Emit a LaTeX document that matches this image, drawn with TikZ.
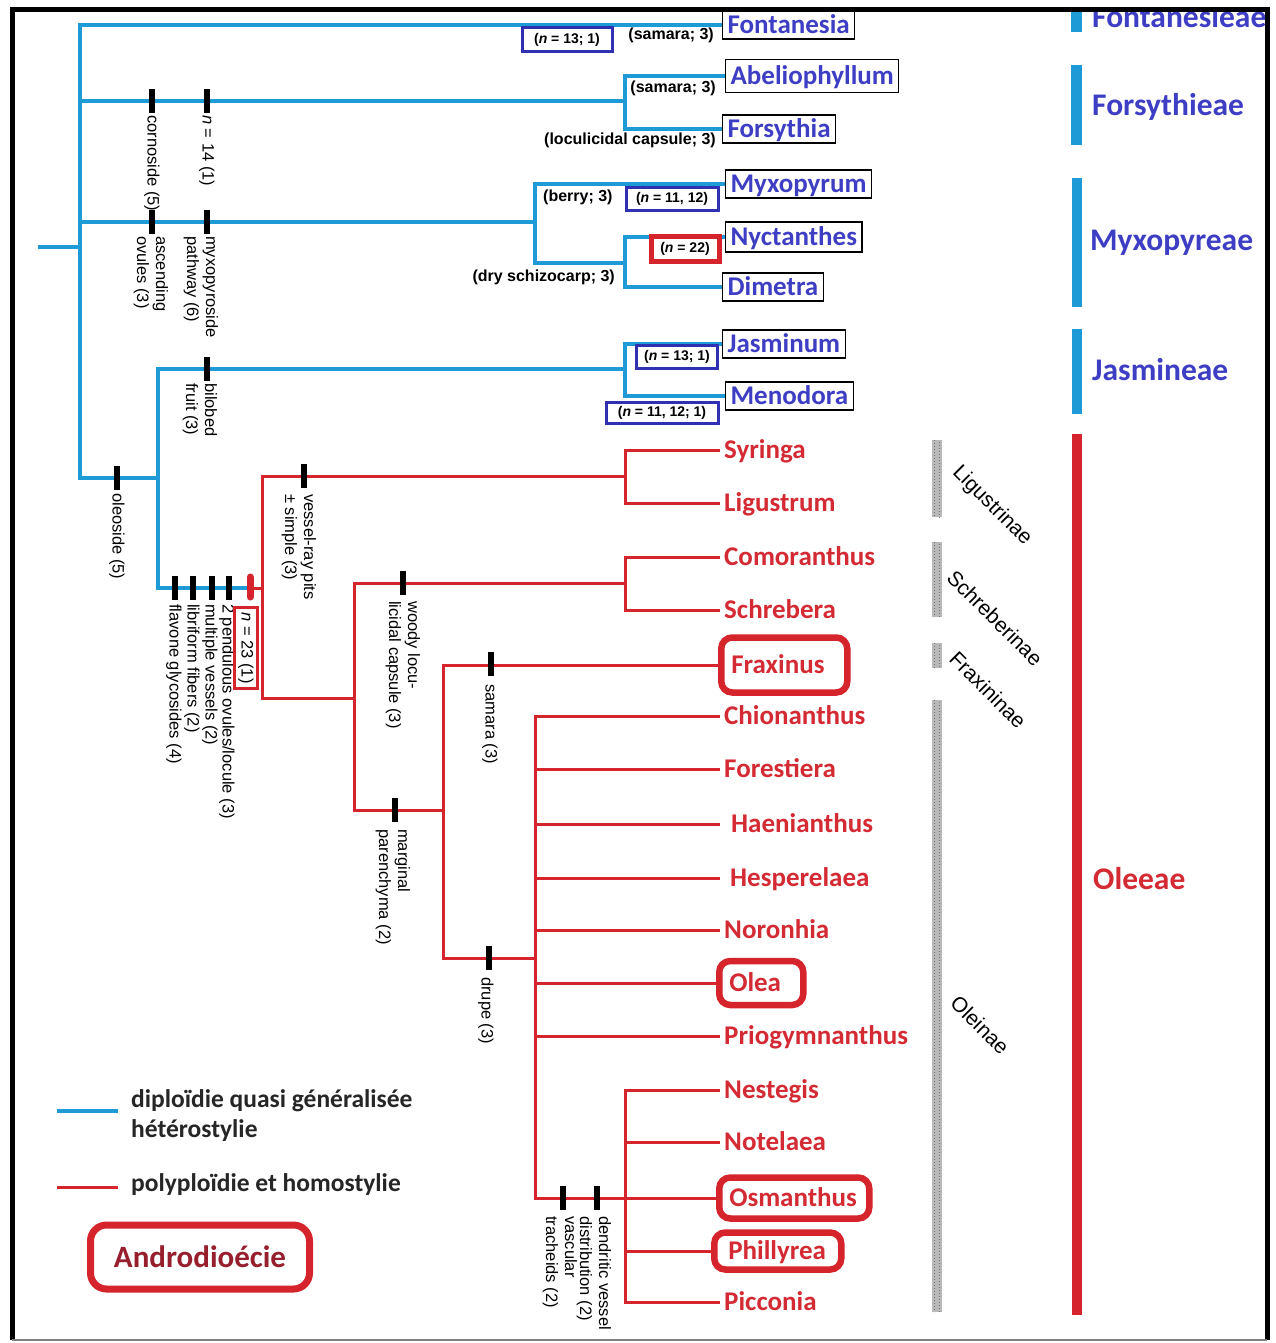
\documentclass[tikz,border=0pt]{standalone}
\usepackage{fontspec}
\setmainfont{Carlito}
\newfontfamily\arialfont{Liberation Sans}

\definecolor{treeblue}{RGB}{30,155,215}
\definecolor{treered}{RGB}{214,36,44}
\definecolor{genusblue}{RGB}{62,62,196}
\definecolor{boxblue}{RGB}{48,48,178}
\definecolor{genusred}{RGB}{212,42,52}
\definecolor{darkred}{RGB}{150,30,45}

\tikzset{
	blueline/.style={treeblue, line width=3.2},
	redline/.style={treered, line width=3},
	bluegenus/.style={draw=black, line width=1.2, text=genusblue, anchor=west, inner xsep=5, inner ysep=0,
		text height=17, text depth=0, minimum height=28, font=\fontsize{27}{29}\selectfont\bfseries},
	redgenus/.style={text=genusred, anchor=west, inner xsep=4, inner ysep=0, text height=17, text depth=0,
		font=\fontsize{27}{29}\selectfont\bfseries},
	androbox/.style={redgenus, draw=treered, line width=6.5, rounded corners=11, align=left, inner xsep=10},
	nbox/.style={draw=boxblue, line width=3, inner sep=0, font=\arialfont\fontsize{14}{16}\selectfont\bfseries},
	charlabel/.style={inner sep=0, font=\arialfont\fontsize{16}{18}\selectfont\bfseries},
	vlabel/.style={rotate=-90, anchor=west, align=left, inner sep=0, font=\arialfont\fontsize{16.5}{19}\selectfont},
	tribe/.style={anchor=base west, inner sep=0, font=\fontsize{31.5}{33}\selectfont\bfseries},
	subtribe/.style={rotate=-45, inner sep=0, font=\arialfont\fontsize{21}{24}\selectfont},
	legendtext/.style={anchor=west, align=left, text=black!85, inner sep=0, font=\fontsize{25.5}{30}\selectfont\bfseries},
}

\begin{document}
\begin{tikzpicture}[x=1pt, y=-1pt]
	\fill[white] (0,0) rectangle (1276,1343);

	% Blue genera
	\node[bluegenus] (fon) at (722,25) {Fontanesia};
	\node[bluegenus, minimum height=33] (abe) at (725,76) {Abeliophyllum};
	\node[bluegenus] (fors) at (722,129) {Forsythia};
	\node[bluegenus] (myx) at (725,184) {Myxopyrum};
	\node[bluegenus, minimum height=30] (nyc) at (725,237) {Nyctanthes};
	\node[bluegenus] (dim) at (722,287) {Dimetra};
	\node[bluegenus] (jas) at (722,344) {Jasminum};
	\node[bluegenus] (men) at (725,396) {Menodora};

	% Blue part of the tree
	\coordinate (stub) at (38,247);
	\coordinate (root) at (80,247);
	\coordinate (forsy) at (625,101);
	\coordinate (myxo) at (535,222);
	\coordinate (nyct) at (625,263);
	\coordinate (lower) at (158,478);
	\coordinate (jasm) at (625,369);
	\coordinate (olbase) at (250,588);

	\draw[blueline] (stub) -- (root);
	\draw[blueline] (root) |- (fon.west);
	\draw[blueline] (root) |- (forsy);
	\draw[blueline] (forsy) |- (abe.west);
	\draw[blueline] (forsy) |- (fors.west);
	\draw[blueline] (root) |- (myxo);
	\draw[blueline] (myxo) |- (myx.west);
	\draw[blueline] (myxo) |- (nyct);
	\draw[blueline] (nyct) |- (nyc.west);
	\draw[blueline] (nyct) |- (dim.west);
	\draw[blueline] (root) |- (lower);
	\draw[blueline] (lower) |- (jasm);
	\draw[blueline] (jasm) |- (jas.west);
	\draw[blueline] (jasm) |- (men.west);
	\draw[blueline] (lower) |- (olbase);

	% Chromosome numbers and fruits
	\node[nbox, minimum width=90, minimum height=24] (nfon) at (567,40) {(\textit{n} = 13; 1)};
	\node[nbox, minimum width=92, minimum height=22] (nmyx) at (672,199) {(\textit{n} = 11, 12)};
	\node[nbox, minimum width=81, minimum height=23] (njas) at (677,357) {(\textit{n} = 13; 1)};
	\node[nbox, minimum width=112, minimum height=21] (nmen) at (662,413) {(\textit{n} = 11, 12; 1)};
	\node[nbox, draw=treered, line width=5, minimum width=68, minimum height=25] (nnyc) at (685,249) {(\textit{n} = 22)};
	\node[charlabel, anchor=east] (frfon) at (714,35) {(samara; 3)};
	\node[charlabel, anchor=east] (frabe) at (716,88) {(samara; 3)};
	\node[charlabel, anchor=east] (frfors) at (716,140) {(loculicidal capsule; 3)};
	\node[charlabel, anchor=west] (frmyx) at (543,197) {(berry; 3)};
	\node[charlabel, anchor=east] (frnyc) at (615,277) {(dry schizocarp; 3)};

	% Red genera
	\node[redgenus] (syr) at (720,450) {Syringa};
	\node[redgenus] (ligu) at (720,503) {Ligustrum};
	\node[redgenus] (com) at (720,557) {Comoranthus};
	\node[redgenus] (schr) at (720,610) {Schrebera};
	\node[androbox, text width=106, minimum height=55] (fra) at (718,665) {Fraxinus};
	\node[redgenus] (chi) at (720,716) {Chionanthus};
	\node[redgenus] (fore) at (720,769) {Forestiera};
	\node[redgenus, inner xsep=11] (hae) at (720,824) {Haenianthus};
	\node[redgenus, inner xsep=10] (hes) at (720,878) {Hesperelaea};
	\node[redgenus] (nor) at (720,930) {Noronhia};
	\node[androbox, text width=64, minimum height=44] (olea) at (716,983) {Olea};
	\node[redgenus] (prio) at (720,1036) {Priogymnanthus};
	\node[redgenus] (nes) at (720,1090) {Nestegis};
	\node[redgenus] (note) at (720,1142) {Notelaea};
	\node[androbox, text width=130, minimum height=41] (osm) at (716,1198) {Osmanthus};
	\node[androbox, inner xsep=14, text width=99, minimum height=37] (phi) at (711,1251) {Phillyrea};
	\node[redgenus] (pic) at (720,1302) {Picconia};

	% Red part of the tree
	\coordinate (oleroot) at (262,588);
	\coordinate (ligs) at (625,476);
	\coordinate (core) at (354,698);
	\coordinate (schs) at (625,583);
	\coordinate (fxo) at (443,810);
	\coordinate (olei) at (535,958);
	\coordinate (osms) at (625,1198);

	\draw[redline] (olbase) -- (oleroot);
	\draw[redline] (oleroot) |- (ligs);
	\draw[redline] (ligs) |- (syr.west);
	\draw[redline] (ligs) |- (ligu.west);
	\draw[redline] (oleroot) |- (core);
	\draw[redline] (core) |- (schs);
	\draw[redline] (schs) |- (com.west);
	\draw[redline] (schs) |- (schr.west);
	\draw[redline] (core) |- (fxo);
	\draw[redline] (fxo) |- (fra.west);
	\draw[redline] (fxo) |- (olei);
	\foreach \g in {chi,fore,hae,hes,nor,olea,prio,osm}
		\draw[redline] (olei) |- (\g.west);
	\foreach \g in {nes,note,phi,pic}
		\draw[redline] (osms) |- (\g.west);

	% Character ticks
	\foreach \tx/\ty in {152/101,207/101,152/222,207/222,207/369,117/478,175/588,193/588,212/588,229/588,
		304/476,403/583,395/810,491/664,489/958,563/1198,597/1198}
		\fill (\tx-3,\ty-12) rectangle (\tx+3,\ty+12);
	\draw[treered, line width=7, line cap=round] (250,577) -- (250,597);

	% Character labels
	\node[vlabel] (cornos) at (152,115) {cornoside (5)};
	\node[vlabel] (n14) at (207,115) {\textit{n} = 14 (1)};
	\node[vlabel] (ascov) at (151,236) {ascending\\ovules (3)};
	\node[vlabel] (myxpath) at (201,236) {myxopyroside\\pathway (6)};
	\node[vlabel] (bilob) at (200,383) {bilobed\\fruit (3)};
	\node[vlabel] (oleos) at (117,493) {oleoside (5)};
	\node[vlabel] (flav) at (174,604) {flavone glycosides (4)};
	\node[vlabel] (libri) at (192,604) {libriform fibers (2)};
	\node[vlabel] (multi) at (210,604) {multiple vessels (2)};
	\node[vlabel] (pend) at (227,604) {2 pendulous ovules/locule (3)};
	\node[vlabel, anchor=center, draw=treered, line width=2.5, minimum width=81, minimum height=23] (n23) at (246,648) {\textit{n} = 23 (1)};
	\node[vlabel] (vessel) at (299,494) {vessel-ray pits\\± simple (3)};
	\node[vlabel] (woody) at (403,601) {woody locu-\\licidal capsule (3)};
	\node[vlabel] (margin) at (393,829) {marginal\\parenchyma (2)};
	\node[vlabel] (samara) at (490,684) {samara (3)};
	\node[vlabel] (drupe) at (486,977) {drupe (3)};
	\node[vlabel] (trach) at (560,1216) {vascular\\tracheids (2)};
	\node[vlabel] (dendr) at (594,1216) {dendritic vessel\\distribution (2)};

	% Subtribes
	\foreach \ya/\yb in {440/517,542/617,643/668,700/1312} {
		\fill[gray!55] (932,\ya) rectangle (942,\yb);
		\draw[black!55, line width=1.2, dash pattern=on 1pt off 2pt] (934.5,\ya) -- (934.5,\yb);
		\draw[black!55, line width=1.2, dash pattern=on 1pt off 2pt] (939.5,\ya+1.5) -- (939.5,\yb);
	}
	\node[subtribe] (ligst) at (992,506) {Ligustrinae};
	\node[subtribe] (schst) at (995,618) {Schreberinae};
	\node[subtribe] (frast) at (988,690) {Fraxininae};
	\node[subtribe] (olest) at (980,1025) {Oleinae};

	% Tribes
	\fill[treeblue] (1071,12) rectangle (1082,32);
	\fill[treeblue] (1071,65) rectangle (1082,145);
	\fill[treeblue] (1072,178) rectangle (1082,307);
	\fill[treeblue] (1072,329) rectangle (1082,414);
	\fill[treered] (1072,434) rectangle (1082,1315);
	\node[tribe, text=genusblue] (fontr) at (1092,28) {Fontanesieae};
	\node[tribe, text=genusblue] (forstr) at (1092,116) {Forsythieae};
	\node[tribe, text=genusblue] (myxtr) at (1090,250) {Myxopyreae};
	\node[tribe, text=genusblue] (jastr) at (1092,380) {Jasmineae};
	\node[tribe, text=genusred] (oletr) at (1093,889) {Oleeae};

	% Legend
	\coordinate (lgb1) at (57,1111);
	\coordinate (lgb2) at (118,1111);
	\coordinate (lgr1) at (57,1187);
	\coordinate (lgr2) at (118,1187);
	\draw[blueline] (lgb1) -- (lgb2);
	\draw[redline] (lgr1) -- (lgr2);
	\node[legendtext] (lgt1) at (131,1116) {diploïdie quasi généralisée\\hétérostylie};
	\node[legendtext] (lgt2) at (131,1185) {polyploïdie et homostylie};
	\node[draw=treered, line width=7, rounded corners=16, minimum width=219, minimum height=64, text=darkred,
		font=\fontsize{31}{33}\selectfont\bfseries] (andro) at (200,1257) {Androdioécie};

	% Frame
	\fill[white] (0,0) rectangle (1276,7.5);
	\draw[line width=5] (12,1340) -- (12,10) -- (1267,10) -- (1267,1340);
	\draw[gray, line width=2] (12,1340) -- (1267,1340);
\end{tikzpicture}
\end{document}
